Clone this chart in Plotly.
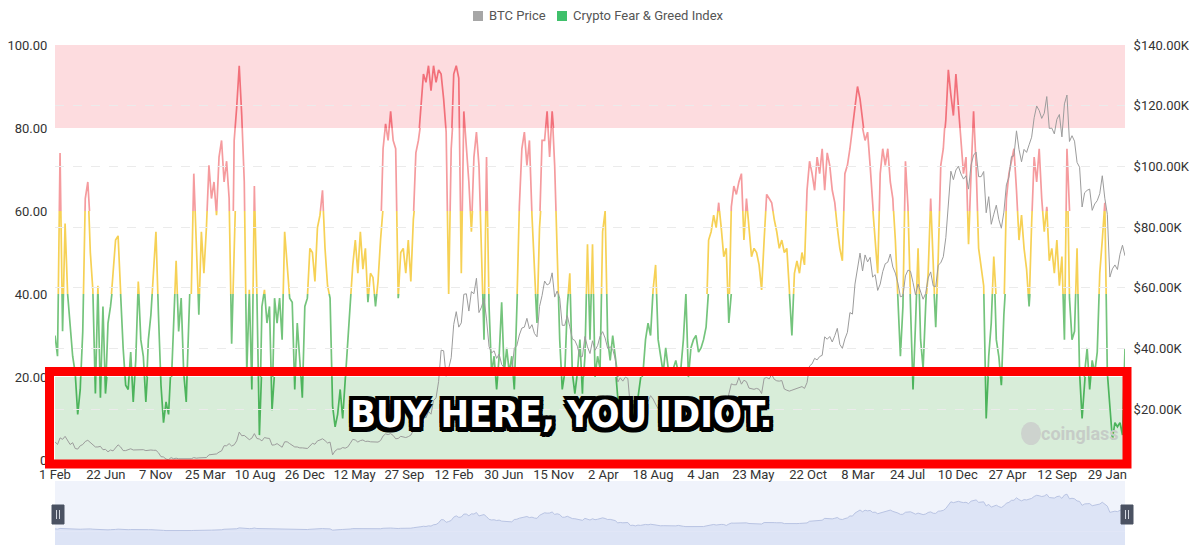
import pandas as pd
import plotly.graph_objects as go

# ---------------- data (weekly samples) ----------------
week_starts = ["2018-02-01", "2019-01-03", "2020-01-02", "2021-01-07", "2022-01-06",
               "2023-01-05", "2024-01-04", "2025-01-02", "2026-01-01"]

fg_2018 = [30, 25, 74, 31, 57, 40, 33, 25, 21, 11, 17, 31, 63, 67, 50, 41, 16, 42, 15, 37,
           16, 33, 37, 45, 53, 54, 40, 27, 18, 17, 26, 14, 24, 43, 29, 25, 14, 29, 35, 45,
           55, 35, 18, 9, 14, 11, 17, 35]
fg_2019 = [48, 31, 39, 21, 14, 33, 40, 69, 53, 35, 55, 45, 56, 71, 63, 67, 59, 73, 77, 67,
           72, 63, 28, 77, 85, 95, 83, 67, 21, 41, 17, 66, 40, 6, 37, 41, 33, 37, 12, 39,
           33, 39, 29, 55, 46, 39, 38, 17, 33, 25, 15, 37]
fg_2020 = [39, 51, 50, 43, 56, 59, 65, 51, 42, 39, 13, 8, 11, 17, 10, 19, 29, 39, 47, 53,
           45, 55, 46, 51, 38, 45, 44, 37, 43, 53, 75, 81, 77, 84, 77, 75, 39, 50, 51, 45,
           53, 43, 58, 74, 77, 84, 93, 91, 95, 89, 95, 91, 94]
fg_2021 = [93, 87, 79, 40, 75, 93, 95, 92, 45, 84, 75, 67, 55, 73, 79, 71, 51, 29, 73, 37,
           21, 25, 17, 25, 38, 21, 27, 21, 25, 17, 37, 61, 75, 79, 71, 77, 59, 45, 33, 56,
           77, 77, 84, 73, 84, 71, 51, 29, 17, 21, 37, 45]
fg_2022 = [21, 16, 21, 29, 16, 25, 52, 29, 52, 20, 25, 22, 55, 60, 29, 24, 30, 22, 15, 11,
           10, 9, 13, 8, 10, 12, 15, 18, 21, 29, 33, 30, 41, 47, 29, 25, 21, 27, 22, 21,
           22, 24, 21, 22, 29, 40, 20, 27, 29, 30, 26, 27]
fg_2023 = [29, 32, 53, 55, 59, 56, 62, 56, 49, 51, 33, 61, 66, 64, 67, 69, 53, 63, 56, 49,
           51, 50, 47, 41, 53, 64, 63, 62, 58, 55, 51, 53, 50, 51, 41, 30, 45, 48, 45, 50,
           47, 65, 72, 69, 65, 73, 69, 75, 65, 74, 71, 65]
fg_2024 = [62, 56, 51, 48, 69, 71, 75, 80, 85, 90, 87, 80, 77, 79, 71, 61, 53, 45, 69, 75,
           71, 75, 67, 63, 53, 39, 25, 37, 72, 61, 37, 17, 33, 51, 29, 22, 37, 45, 63, 45,
           32, 49, 71, 75, 82, 94, 88, 83, 93, 85, 79, 69]
fg_2025 = [73, 52, 69, 84, 71, 51, 47, 42, 10, 25, 33, 49, 29, 25, 18, 35, 63, 69, 72, 75,
           65, 53, 59, 51, 46, 37, 57, 73, 67, 75, 63, 55, 61, 48, 51, 45, 53, 42, 49, 29,
           75, 39, 29, 31, 51, 21, 10, 21, 27, 17, 24, 21]
fg_2026 = [26, 45, 53, 62, 21, 13, 5, 9, 8, 9, 6, 27]

# BTC price, thousands of USD
btc_2018 = [9.2, 8.3, 10.5, 10.0, 11.0, 9.4, 8.3, 8.9, 7.0, 6.8, 7.9, 8.3, 9.3, 9.7, 9.0, 8.1,
            7.5, 7.5, 7.7, 6.6, 6.7, 5.9, 6.5, 6.2, 7.3, 8.2, 7.5, 6.3, 6.3, 6.5, 6.9, 6.5,
            6.5, 6.5, 6.6, 6.6, 6.3, 6.5, 6.5, 6.4, 6.4, 5.6, 4.3, 4.2, 3.5, 3.3, 4.0, 3.6]
btc_2019 = [3.8, 3.6, 3.6, 3.6, 3.5, 3.4, 3.6, 4.0, 3.8, 3.9, 3.9, 4.0, 4.0, 4.9, 5.0, 5.3,
            5.2, 5.8, 6.2, 7.9, 7.9, 8.6, 7.8, 8.2, 9.5, 12.4, 11.2, 11.3, 10.6, 9.9, 10.4, 11.9,
            10.3, 10.1, 9.5, 10.6, 10.4, 10.3, 8.1, 8.2, 8.6, 8.1, 7.4, 9.2, 9.2, 8.6, 8.1, 7.5,
            7.5, 7.2, 7.2, 7.2]
btc_2020 = [7.0, 7.8, 8.7, 8.4, 9.5, 9.8, 10.2, 9.6, 8.8, 9.1, 4.9, 6.2, 6.8, 6.8, 7.3, 7.1,
            7.5, 8.7, 10.0, 9.8, 9.1, 9.6, 9.8, 9.3, 9.4, 9.2, 9.1, 9.2, 9.1, 9.6, 11.1, 11.8,
            11.6, 11.9, 11.3, 10.2, 10.3, 11.0, 10.7, 10.6, 10.9, 11.4, 12.9, 13.4, 15.6, 16.3,
            17.8, 17.1, 19.2, 18.3, 22.8, 23.7, 29.0]
btc_2021 = [39.4, 39.2, 30.8, 33.4, 36.9, 47.9, 52.1, 47.0, 48.4, 57.8, 58.0, 52.3, 58.7, 58.0,
            63.1, 51.8, 53.6, 56.4, 49.7, 40.6, 38.5, 39.2, 36.7, 38.1, 34.7, 33.6, 32.9, 31.8,
            32.3, 40.0, 40.9, 44.4, 46.7, 47.0, 49.9, 46.4, 47.8, 44.9, 43.8, 53.8, 57.4, 62.2,
            60.9, 61.4, 64.9, 56.9, 58.9, 56.5, 47.6, 47.6, 50.8, 47.1]
btc_2022 = [43.1, 42.6, 40.7, 37.2, 37.3, 43.9, 40.5, 38.3, 42.5, 39.4, 40.9, 44.0, 45.5, 43.4,
            40.0, 40.5, 39.7, 36.5, 28.9, 30.3, 29.2, 30.5, 30.1, 20.4, 21.2, 19.0, 21.6, 20.6,
            23.2, 23.8, 22.6, 24.4, 23.3, 21.6, 20.1, 19.3, 19.7, 19.4, 19.6, 20.0, 19.4, 19.0,
            20.6, 20.2, 17.6, 16.7, 16.6, 17.0, 17.2, 17.4, 16.8, 16.6]
btc_2023 = [16.8, 18.8, 21.1, 23.0, 23.7, 21.8, 23.5, 23.9, 23.5, 20.4, 24.9, 28.3, 28.0, 28.0,
            30.4, 28.2, 29.5, 29.0, 26.9, 26.8, 26.5, 26.8, 26.5, 25.1, 30.1, 30.4, 29.9, 31.4,
            29.8, 29.3, 29.2, 29.4, 26.6, 26.2, 25.9, 26.2, 26.5, 26.6, 27.0, 27.4, 26.8, 28.7,
            34.2, 34.9, 36.7, 36.2, 37.3, 37.7, 43.8, 43.0, 43.9, 42.1]
btc_2024 = [44.2, 46.6, 41.3, 40.0, 43.1, 45.3, 51.8, 51.3, 61.2, 66.9, 71.4, 65.5, 70.8, 68.5,
            70.0, 63.5, 64.3, 59.1, 61.2, 65.3, 67.9, 68.4, 71.1, 66.8, 64.8, 61.5, 57.0, 57.3,
            63.9, 65.8, 65.4, 61.7, 57.6, 61.2, 59.0, 56.2, 58.1, 63.2, 65.2, 60.6, 60.3, 67.4,
            68.2, 70.2, 76.5, 87.2, 98.4, 95.6, 98.8, 100.0, 97.5, 95.8]
btc_2025 = [96.9, 92.5, 100.5, 103.7, 104.7, 96.6, 96.6, 98.3, 84.7, 90.0, 80.9, 84.2, 87.2, 82.5,
            79.6, 84.9, 93.9, 96.5, 103.2, 103.5, 111.7, 105.6, 101.5, 105.6, 104.6, 107.1, 109.6,
            116.0, 119.9, 118.4, 115.8, 117.5, 123.0, 112.5, 112.6, 110.7, 115.5, 117.1, 109.7,
            120.6, 123.5, 108.2, 110.1, 108.3, 101.3, 99.7, 86.6, 91.3, 92.1, 92.5, 85.5, 87.6]
btc_2026 = [88.7, 91.0, 96.9, 89.5, 84.2, 63.5, 66.2, 67.5, 66.0, 71.0, 74.0, 70.5]

tick_dates = ["2018-02-01", "2018-06-22", "2018-11-07", "2019-03-25", "2019-08-10", "2019-12-26",
              "2020-05-12", "2020-09-27", "2021-02-12", "2021-06-30", "2021-11-15", "2022-04-02",
              "2022-08-18", "2023-01-04", "2023-05-23", "2023-10-22", "2024-03-08", "2024-07-24",
              "2024-12-10", "2025-04-27", "2025-09-12", "2026-01-29"]
tick_labels = ["1 Feb", "22 Jun", "7 Nov", "25 Mar", "10 Aug", "26 Dec", "12 May", "27 Sep",
               "12 Feb", "30 Jun", "15 Nov", "2 Apr", "18 Aug", "4 Jan", "23 May", "22 Oct",
               "8 Mar", "24 Jul", "10 Dec", "27 Apr", "12 Sep", "29 Jan"]
left_ticks = [0, 20, 40, 60, 80, 100]
left_labels = ["0", "20.00", "40.00", "60.00", "80.00", "100.00"]
right_ticks = [20, 40, 60, 80, 100, 120, 140]
right_labels = ["$20.00K", "$40.00K", "$60.00K", "$80.00K", "$100.00K", "$120.00K", "$140.00K"]
legend_names = ["BTC Price", "Crypto Fear & Greed Index"]

fg_by_year = [fg_2018, fg_2019, fg_2020, fg_2021, fg_2022, fg_2023, fg_2024, fg_2025, fg_2026]
btc_by_year = [btc_2018, btc_2019, btc_2020, btc_2021, btc_2022, btc_2023, btc_2024, btc_2025, btc_2026]


def weekly(series_by_year):
    xs, ys = [], []
    for start, vals in zip(week_starts, series_by_year):
        xs.extend(pd.date_range(start, periods=len(vals), freq="7D"))
        ys.extend(vals)
    return xs, ys


dates, fg = weekly(fg_by_year)
bdates, btc = weekly(btc_by_year)
x_range = [dates[0], max(dates[-1], bdates[-1])]

# ---------------- geometry helpers (screen pixels -> paper) ----------------
# the page body has an 8px margin, so the figure is drawn 8px in from the window corner
BODY = 8
W, H = 1200 - BODY, 551 - BODY
L, T = 55 - BODY, 45 - BODY
PW, PH = 1070, 500
R, B = W - L - PW, H - T - PH


def px(xs):
    return (xs - BODY - L) / PW


def py(ys):
    return (H - B - (ys - BODY)) / PH


main_dom = [py(460), 1.0]
slider_dom = [0.0, py(481)]
FONT = "Roboto, Inter, DejaVu Sans, sans-serif"

bands = [(0, 20, "#4db45c"), (20, 40, "#74c47c"), (40, 60, "#f6d155"),
         (60, 80, "#f59b9e"), (80, 100, "#f2707a")]

fig = go.Figure()
layout_axes = {}

for i, (lo, hi, col) in enumerate(bands):
    ax = i + 2
    d0 = main_dom[0] + (main_dom[1] - main_dom[0]) * lo / 100
    d1 = main_dom[0] + (main_dom[1] - main_dom[0]) * hi / 100
    layout_axes[f"yaxis{ax}"] = dict(domain=[d0, d1], range=[lo, hi], visible=False,
                                     anchor="x", fixedrange=True)
    fig.add_trace(go.Scatter(x=dates, y=fg, mode="lines", xaxis="x", yaxis=f"y{ax}",
                             line=dict(color=col, width=1.7), showlegend=False,
                             hoverinfo="skip"))

# BTC price on right axis
fig.add_trace(go.Scatter(x=bdates, y=btc, mode="lines", xaxis="x", yaxis="y7",
                         line=dict(color="#9c9c9c", width=1), showlegend=False,
                         hoverinfo="skip"))

# slider mini chart
fig.add_trace(go.Scatter(x=bdates, y=btc, mode="lines", xaxis="x2", yaxis="y8",
                         fill="tozeroy", fillcolor="#dde4f6",
                         line=dict(color="#b9c4e3", width=1), showlegend=False,
                         hoverinfo="skip"))

shapes = [
    # bands
    dict(type="rect", xref="x domain", yref="y", x0=0, x1=1, y0=80, y1=100,
         fillcolor="rgba(247,120,130,0.26)", line=dict(width=0), layer="below"),
    dict(type="rect", xref="x domain", yref="y", x0=0, x1=1, y0=0, y1=20,
         fillcolor="rgba(76,175,80,0.22)", line=dict(width=0), layer="below"),
    # slider background
    dict(type="rect", xref="x2 domain", yref="y8 domain", x0=0, x1=1, y0=0, y1=1,
         fillcolor="#f0f3fb", line=dict(width=0), layer="below"),
    dict(type="rect", xref="x2 domain", yref="y8", x0=0, x1=1, y0=-44, y1=0,
         fillcolor="#dde4f6", line=dict(width=0), layer="below"),
    # red meme frame
    dict(type="rect", xref="paper", yref="paper", x0=px(49.5), x1=px(1127), y0=py(464),
         y1=py(371.5), line=dict(color="#ff0000", width=9), fillcolor="rgba(0,0,0,0)",
         layer="above"),
    # watermark logo blob
    dict(type="circle", xref="paper", yref="paper", x0=px(1021), x1=px(1041), y0=py(445),
         y1=py(422), fillcolor="#cdd3ce", line=dict(width=0), layer="above"),
    # legend squares
    dict(type="rect", xref="paper", yref="paper", x0=px(473), x1=px(483), y0=py(21),
         y1=py(11), fillcolor="#a6a6a6", line=dict(width=0)),
    dict(type="rect", xref="paper", yref="paper", x0=px(557), x1=px(567), y0=py(21),
         y1=py(11), fillcolor="#3fc06b", line=dict(width=0)),
]
# slider handles
for cx in (58, 1127):
    shapes.append(dict(type="rect", xref="paper", yref="paper", x0=px(cx - 6), x1=px(cx + 6),
                       y0=py(524), y1=py(505), fillcolor="#4b5262",
                       line=dict(color="#4b5262", width=1), layer="above"))
    for dx in (-1.5, 1.5):
        shapes.append(dict(type="line", xref="paper", yref="paper", x0=px(cx + dx),
                           x1=px(cx + dx), y0=py(519), y1=py(510),
                           line=dict(color="#d4d8e0", width=1), layer="above"))

annotations = [
    dict(text="BUY HERE, YOU IDIOT.", xref="paper", yref="paper", x=px(561), y=py(414),
         showarrow=False, xanchor="center", yanchor="middle",
         font=dict(family="DejaVu Sans Condensed, DejaVu Sans, sans-serif", size=38,
                   color="#ffffff", weight="bold",
                   shadow="-4px -4px 0 #000, 4px -4px 0 #000, -4px 4px 0 #000, 4px 4px 0 #000, "
                          "0 4px 0 #000, 0 -4px 0 #000, 4px 0 0 #000, -4px 0 0 #000, "
                          "2px 5px 0 #000, -2px 5px 0 #000")),
    dict(text="coinglass", xref="paper", yref="paper", x=px(1121), y=py(433),
         showarrow=False, xanchor="right", yanchor="middle",
         font=dict(family=FONT, size=18, color="#c6ccc7", weight="bold")),
    dict(text=legend_names[0], xref="paper", yref="paper", x=px(487), y=py(16),
         showarrow=False, xanchor="left", yanchor="middle",
         font=dict(family=FONT, size=13, color="#555555")),
    dict(text=legend_names[1], xref="paper", yref="paper", x=px(571), y=py(16),
         showarrow=False, xanchor="left", yanchor="middle",
         font=dict(family=FONT, size=13, color="#555555")),
]

fig.update_layout(
    width=W, height=H,
    margin=dict(l=L, r=R, t=T, b=B, autoexpand=False),
    paper_bgcolor="#ffffff", plot_bgcolor="rgba(0,0,0,0)",
    font=dict(family=FONT, size=13, color="#333333"),
    showlegend=False,
    xaxis=dict(domain=[0, 1], anchor="y", type="date", range=x_range,
               tickvals=tick_dates, ticktext=tick_labels, tickangle=0,
               showgrid=False, zeroline=False, showline=False, ticks="outside",
               ticklen=2, tickcolor="rgba(0,0,0,0)",
               tickfont=dict(size=13, color="#333333"), fixedrange=True),
    yaxis=dict(domain=main_dom, anchor="x", range=[0, 100], tickvals=left_ticks,
               ticktext=left_labels, showgrid=False, zeroline=False, showline=False,
               ticks="outside", ticklen=4, tickcolor="rgba(0,0,0,0)",
               tickfont=dict(size=13, color="#333333"), fixedrange=True),
    yaxis7=dict(domain=main_dom, anchor="x", side="right", range=[3.2, 140],
                tickvals=right_ticks, ticktext=right_labels, showgrid=True,
                gridcolor="#ebebeb", griddash="dash", gridwidth=1, zeroline=False,
                showline=False, ticks="outside", ticklen=5, tickcolor="rgba(0,0,0,0)",
                tickfont=dict(size=13, color="#333333"), fixedrange=True),
    xaxis2=dict(domain=[0, 1], anchor="y8", type="date", range=x_range, visible=False,
                fixedrange=True),
    yaxis8=dict(domain=slider_dom, anchor="x2", range=[-44, 167], visible=False,
                fixedrange=True),
    shapes=shapes,
    annotations=annotations,
    hovermode=False,
)
fig.update_layout(**layout_axes)

fig.write_html("out.html")
